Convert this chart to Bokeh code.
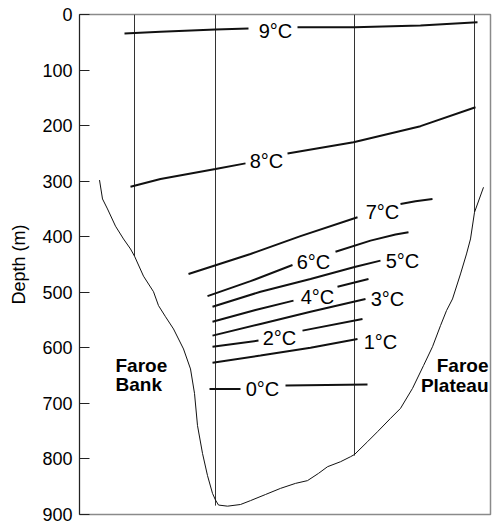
from bokeh.plotting import figure
from bokeh.models import Range1d, FixedTicker, ColumnDataSource
from bokeh.core.properties import value
from bokeh.embed import file_html
from bokeh.resources import INLINE

FONT = "Liberation Sans"
NaN = float("nan")

# Section distance (arbitrary along-section units) and depth in metres
depth_ticks = [0, 100, 200, 300, 400, 500, 600, 700, 800, 900]

# CTD station casts: position and depth of the bottom of each cast
station_x = [55, 136, 275, 395]
station_bottom = [435, 884, 794, 356]

# Seabed profile across the channel
seabed_x = [20, 23, 28, 36, 44, 51, 55, 64, 74, 79, 86, 94, 104, 111, 115, 118,
            123, 128, 133, 136, 139, 148, 161, 171, 186, 201, 216, 228, 239, 248,
            261, 271, 275, 288, 298, 311, 321, 333, 344, 353, 361, 367, 373, 381,
            387, 391, 395, 404]
seabed_depth = [298, 332, 350, 381, 404, 422, 435, 471, 499, 524, 544, 566, 602,
                638, 682, 740, 790, 830, 862, 874, 883, 885, 882, 875, 864, 853,
                844, 839, 826, 814, 805, 796, 792, 769, 751, 727, 709, 673, 632,
                598, 560, 533, 512, 467, 431, 404, 356, 311]

# Isotherms (NaN leaves room for the in-line label)
iso9_x = [45, 81, 136, 169, NaN, 218, 275, 341, 398]
iso9_d = [34, 31, 27, 25, NaN, 23, 23, 20, 14]
iso8_x = [51, 81, 136, 166, NaN, 208, 274, 341, 396]
iso8_d = [310, 296, 278, 268, NaN, 250, 230, 201, 167]
iso7_x = [109, 171, 221, 278, NaN, 321, 336, 353]
iso7_d = [467, 431, 399, 365, NaN, 341, 336, 332]
iso6_x = [128, 171, 213, NaN, 256, 291, 316, 329]
iso6_d = [507, 480, 451, NaN, 427, 407, 396, 392]
iso5_x = [133, 181, 231, 276, 301]
iso5_d = [526, 499, 476, 454, 443]
iso4_x = [133, 176, 214, NaN, 258, 289]
iso4_d = [553, 532, 515, NaN, 490, 476]
iso3_x = [133, 181, 231, 286]
iso3_d = [578, 557, 535, 512]
iso2_x = [133, 179, NaN, 223, 283]
iso2_d = [598, 587, NaN, 569, 548]
iso1_x = [133, 181, 231, 278]
iso1_d = [627, 614, 600, 584]
iso0_x = [130, 161, NaN, 206, 288]
iso0_d = [674, 674, NaN, 668, 666]

# Isotherm labels
label_temp = [9, 8, 7, 6, 5, 4, 3, 2, 1, 0]
label_x = [196, 187, 303, 234, 323, 238, 308, 200, 301, 183]
label_d = [29, 264, 356, 445, 444, 508, 512, 582, 589, 674]

# Place names on either flank
bank_lines = ["Faroe", "Bank"]
bank_x = [36, 36]
bank_d = [631, 666]
plateau_lines = ["Faroe", "Plateau"]
plateau_x = [409, 409]
plateau_d = [631, 668]

p = figure(width=492, height=525, output_backend="svg", toolbar_location=None,
           x_range=Range1d(0, 411), y_range=Range1d(900, 0),
           x_axis_type=None,
           min_border_left=79, min_border_right=2,
           min_border_top=14, min_border_bottom=11)

p.grid.visible = False
p.outline_line_color = "#8a8a8a"
p.outline_line_width = 1.5
p.background_fill_color = "white"
p.border_fill_color = "white"

ax = p.yaxis[0]
ax.ticker = FixedTicker(ticks=depth_ticks)
ax.axis_label = "Depth (m)"
ax.axis_label_text_font = FONT
ax.axis_label_text_font_size = "18px"
ax.axis_label_text_font_style = "normal"
ax.axis_label_text_color = "#000000"
ax.axis_label_standoff = 10
ax.major_label_text_font = FONT
ax.major_label_text_font_size = "18px"
ax.major_label_text_color = "#000000"
ax.major_label_standoff = 7
ax.major_tick_in = 10
ax.major_tick_out = 0
ax.major_tick_line_color = "#222222"
ax.minor_tick_line_color = None
ax.axis_line_color = "#222222"
ax.axis_line_width = 1

# Station casts
p.segment(x0=station_x, y0=[0] * len(station_x), x1=station_x, y1=station_bottom,
          line_color="#333333", line_width=1)

# Seabed
p.line(seabed_x, seabed_depth, line_color="#111111", line_width=1)

# Isotherms
iso_xs = [iso9_x, iso8_x, iso7_x, iso6_x, iso5_x, iso4_x, iso3_x, iso2_x, iso1_x, iso0_x]
iso_ds = [iso9_d, iso8_d, iso7_d, iso6_d, iso5_d, iso4_d, iso3_d, iso2_d, iso1_d, iso0_d]
for xs, ds in zip(iso_xs, iso_ds):
    p.line(xs, ds, line_color="#111111", line_width=2)

labels = ColumnDataSource(dict(x=label_x, y=label_d,
                               text=[f"{t}°C" for t in label_temp]))
p.text(x="x", y="y", text="text", source=labels,
       text_font=value(FONT), text_font_size=value("20px"),
       text_align="center", text_baseline="middle", text_color="#000000")

p.text(x=bank_x, y=bank_d, text=bank_lines,
       text_font=value(FONT), text_font_size=value("19px"), text_font_style="bold",
       text_align="left", text_baseline="middle", text_color="#000000")
p.text(x=plateau_x, y=plateau_d, text=plateau_lines,
       text_font=value(FONT), text_font_size=value("19px"), text_font_style="bold",
       text_align="right", text_baseline="middle", text_color="#000000")

open("out.html", "w").write(file_html(p, INLINE))
